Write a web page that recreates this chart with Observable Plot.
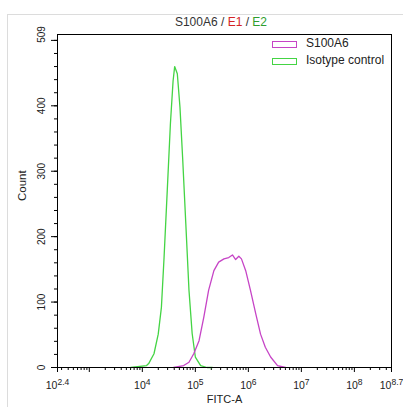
<!DOCTYPE html>
<html><head><meta charset="utf-8">
<script src="https://cdn.jsdelivr.net/npm/d3@7"></script>
<script src="https://cdn.jsdelivr.net/npm/@observablehq/plot@0.6"></script>
<style>
body{margin:0;background:#fff;font-family:"Liberation Sans",Arial,sans-serif;}
#wrap{position:relative;width:403px;height:407px;overflow:hidden;}
#panel{position:absolute;left:7px;top:14px;width:420px;height:420px;border-left:1px solid #dcdcdc;border-top:1px solid #dcdcdc;}
#title{position:absolute;top:15px;left:0;width:442px;text-align:center;font-size:12px;line-height:14px;color:#333;}
#chart{position:absolute;left:0;top:0;}
.lg{position:absolute;font-size:12px;line-height:12px;color:#222;white-space:nowrap;}
.sw{position:absolute;width:23px;height:5px;background:#fff;}
</style></head>
<body>
<div id="wrap">
  <div id="panel"></div>
  <div id="chart"></div>
  <div id="title">S100A6 / <span style="color:#d42424">E1</span> / <span style="color:#2e9e2e">E2</span></div>
  <div class="sw" style="left:272px;top:41px;border:1px solid #c644c6"></div>
  <div class="lg" style="left:306px;top:37px">S100A6</div>
  <div class="sw" style="left:272px;top:58px;border:1px solid #44d444"></div>
  <div class="lg" style="left:306px;top:54px">Isotype control</div>
</div>
<script>
// Isotype control (green): log10(FITC-A) and count
const greenLog   = [3.78, 4.08, 4.12, 4.22, 4.30, 4.36, 4.41, 4.47, 4.53, 4.58, 4.61, 4.66, 4.71, 4.76, 4.82, 4.88, 4.94, 5.00, 5.10, 5.22, 5.32];
const greenCount = [0,    3,    6,    21,   51,   92,   168,  270,  373,  438,  460,  449,  398,  321,  220,  118,  52,   16,   3,    0,    0];
// S100A6 (magenta)
const magLog   = [4.59, 4.78, 4.88, 4.97, 5.07, 5.16, 5.25, 5.35, 5.44, 5.54, 5.63, 5.70, 5.76, 5.82, 5.87, 5.95, 6.04, 6.14, 6.23, 6.32, 6.42, 6.55, 6.70];
const magCount = [0,    3,    8,    21,   41,   77,   118,  148,  161,  166,  168,  172,  165,  170,  166,  148,  118,  82,   51,   31,   16,   3,    0];
// axis tick labels
const xLabelExp = ["2.4", "4", "5", "6", "7", "8", "8.7"];
const xMajorExp = [2.4, 3, 4, 5, 6, 7, 8, 8.7];
const yLabels = [0, 100, 200, 300, 400, 509];

const green = greenLog.map((e, i) => ({x: 10 ** e, y: greenCount[i]}));
const mag = magLog.map((e, i) => ({x: 10 ** e, y: magCount[i]}));

const xMinor = [];
for (let n = 2; n <= 8; n++) for (let k = 2; k <= 9; k++) {
  const v = k * 10 ** n;
  if (v > 10 ** 2.4 && v < 10 ** 8.7) xMinor.push(v);
}

const svg = Plot.plot({
  width: 403, height: 407,
  marginTop: 34, marginLeft: 57, marginRight: 12, marginBottom: 40,
  style: {fontFamily: "'Liberation Sans', Arial, sans-serif", background: "transparent", overflow: "visible"},
  x: {type: "log", domain: [10 ** 2.4, 10 ** 8.7], label: null},
  y: {domain: [0, 509], label: null},
  marks: [
    Plot.axisX({ticks: xMinor, tickSize: 3, tickFormat: () => "", stroke: "#000", label: null}),
    Plot.axisX({ticks: xMajorExp.map(e => 10 ** e), tickSize: 5, tickFormat: () => "", stroke: "#000", label: null}),
    Plot.axisY({ticks: d3.range(0, 509, 20), tickSize: 3, tickFormat: () => "", stroke: "#000", label: null}),
    Plot.axisY({ticks: d3.range(0, 501, 100), tickSize: 6, tickFormat: () => "", stroke: "#000", label: null}),
    Plot.text(xLabelExp, {x: d => 10 ** (+d), frameAnchor: "bottom", dy: 21, lineAnchor: "bottom", text: d => d, fontSize: 10.5, fill: "#222", ariaLabel: () => "xlab"}),
    Plot.text(yLabels, {y: d => d, frameAnchor: "left", dx: -16, rotate: -90, textAnchor: "middle", lineAnchor: "middle", text: d => String(d), fontSize: 10, fill: "#222"}),
    Plot.text(["Count"], {frameAnchor: "left", dx: -35, rotate: -90, text: d => d, fontSize: 11.5, fill: "#222"}),
    Plot.text(["FITC-A"], {frameAnchor: "bottom", dy: 35, text: d => d, fontSize: 11, fill: "#222"}),
    Plot.line(green, {x: "x", y: "y", stroke: "#44d444", strokeWidth: 1.3}),
    Plot.line(mag, {x: "x", y: "y", stroke: "#c644c6", strokeWidth: 1.3}),
    Plot.frame({stroke: "#000", strokeWidth: 1})
  ]
});

d3.select(svg).selectAll('[aria-label="xlab"] text, text[aria-label="xlab"]').each(function() {
  const t = d3.select(this);
  const exp = t.text();
  t.text("10");
  t.append("tspan").attr("dy", "-0.45em").attr("font-size", "8.5px").text(exp);
});

document.getElementById("chart").appendChild(svg);
</script>
</body></html>
